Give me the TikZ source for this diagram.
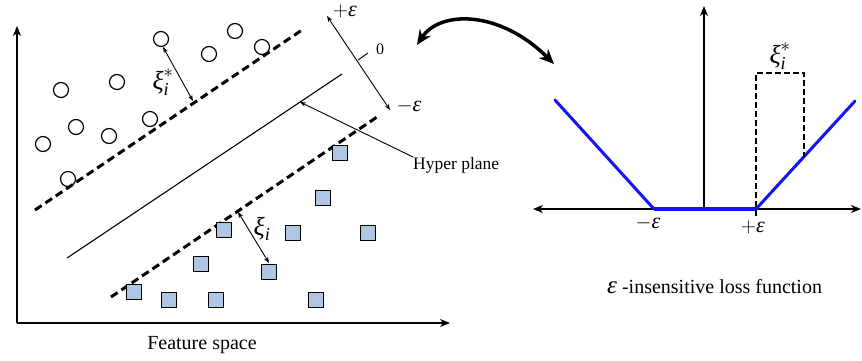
\documentclass[tikz,border=0pt]{standalone}
\usepackage{amsmath}
\usepackage{graphicx}
\usepackage{fontspec}
\setmainfont{Liberation Serif}
\usetikzlibrary{arrows.meta}
\definecolor{sqfill}{RGB}{176,196,228}
\definecolor{lossblue}{RGB}{20,20,245}
\newcommand{\gxi}{\text{\itshape ξ}}
\newcommand{\geps}{\text{\itshape ε}}
\newcommand{\gidx}{\text{\itshape i}}
\newcommand{\gstar}{\scalebox{0.75}{$*$}}
\begin{document}
\begin{tikzpicture}[x=1pt,y=-1pt,
  axisline/.style={line width=1.1pt},
  tipA/.style={-{Stealth[length=10pt,width=8pt,inset=3pt]}},
  margin/.style={line width=3pt,dash pattern=on 8pt off 4.5pt},
  pt/.style={circle,draw,line width=1.2pt,minimum size=15pt,inner sep=0pt},
  sq/.style={draw,fill=sqfill,line width=1pt,minimum size=15pt,inner sep=0pt},
  dist/.style={line width=0.9pt,{Stealth[length=6pt,width=4.5pt]}-{Stealth[length=6pt,width=4.5pt]}},
  lbl/.style={inner sep=0pt,font=\fontsize{20}{24}\selectfont},
  xilbl/.style={inner sep=0pt,font=\fontsize{26}{30}\selectfont},
  slbl/.style={inner sep=0pt,font=\fontsize{22}{26}\selectfont},
  lossline/.style={draw=lossblue,line width=3pt},
]
\useasboundingbox[fill=white] (0,0) rectangle (862,360);
% ---------- left: feature space ----------
\coordinate (org) at (17,323);
\coordinate (ytop) at (17,26);
\coordinate (xend) at (450,323);
\draw[axisline,tipA] (org) -- (ytop);
\draw[axisline,tipA] (org) -- (xend);
% margins and hyperplane
\coordinate (u1) at (35,210); \coordinate (u2) at (302,30);
\coordinate (h1) at (67,258); \coordinate (h2) at (342,74);
\coordinate (l1) at (111,297); \coordinate (l2) at (377,117);
\draw[margin] (u1) -- (u2);
\draw[line width=1.1pt] (h1) -- (h2);
\draw[margin] (l1) -- (l2);
% circles
\foreach \n/\x/\y in {1/161/39,2/235/31,3/209/54,4/262/47,5/61/90,6/117/82,7/76/127,8/150/119,9/109/136,10/43/144,11/68/179}
  \node[pt] (c\n) at (\x,\y) {};
% squares
\foreach \n/\x/\y in {1/340/153,2/323/198,3/224/230,4/293/233,5/368/233,6/201/264,7/269/272,8/134/292,9/169/300,10/216/300,11/316/300}
  \node[sq] (s\n) at (\x,\y) {};
% slack arrows
\coordinate (xa1) at (163,47); \coordinate (xa2) at (193,101);
\draw[dist] (xa1) -- (xa2);
\node[xilbl] (xistar) at (163,82) {$\gxi_{\gidx}^{\gstar}$};
\coordinate (xb1) at (238,212); \coordinate (xb2) at (269,263);
\draw[dist] (xb1) -- (xb2);
\node[xilbl] (xi) at (262,229) {$\gxi_{\gidx}$};
% epsilon tube arrow
\coordinate (e1) at (327,16); \coordinate (e2) at (390,110);
\draw[dist] (e1) -- (e2);
\coordinate (t1) at (358,60); \coordinate (t2) at (368,53);
\draw[line width=0.9pt] (t1) -- (t2);
\node[inner sep=0pt,font=\fontsize{16}{20}\selectfont] (zero) at (380,49) {0};
\node[slbl] (pe) at (345,11) {$+\geps$};
\node[slbl] (me) at (409,106) {$-\geps$};
% hyper plane label
\node[inner sep=0pt,font=\fontsize{17.5}{21}\selectfont,anchor=north west] (hp) at (413,157) {Hyper plane};
\coordinate (hpt) at (300,102);
\draw[line width=0.9pt,-{Stealth[length=6pt,width=4.5pt]}] (hp.north west) -- (hpt);
\node[lbl] (fs) at (202,345) {Feature space};
% ---------- curved double arrow ----------
\coordinate (ca1) at (417,45); \coordinate (ca2) at (554,64);
\draw[line width=3.5pt,{Stealth[length=15pt,width=13pt,inset=5pt]}-{Stealth[length=15pt,width=13pt,inset=5pt]}]
  (ca1) .. controls (440,10) and (500,10) .. (ca2);
% ---------- right: loss function ----------
\coordinate (ro) at (704,209);
\coordinate (rl) at (533,209); \coordinate (rr) at (861,209);
\coordinate (rt) at (704,6);
\draw[axisline,tipA] (ro) -- (rt);
\draw[axisline,{Stealth[length=10pt,width=8pt,inset=3pt]}-{Stealth[length=10pt,width=8pt,inset=3pt]}] (rl) -- (rr);
\coordinate (b1) at (555,100); \coordinate (b2) at (654,209);
\coordinate (b3) at (756,209); \coordinate (b4) at (855,101);
\draw[lossline,line cap=round] (b1) -- (b2);
\draw[lossline,line width=4.5pt] (b2) -- (b3);
\draw[lossline,line cap=round] (b3) -- (b4);
\coordinate (r1) at (756,216); \coordinate (r2) at (756,73);
\coordinate (r3) at (804,73); \coordinate (r4) at (804,157);
\draw[line width=1.8pt,dash pattern=on 6pt off 3pt] (r1) -- (r2) -- (r3) -- (r4);
\node[xilbl] (xistar2) at (780,56) {$\gxi_{\gidx}^{\gstar}$};
\node[slbl] (rme) at (648,223) {$-\geps$};
\node[slbl] (rpe) at (753,227) {$+\geps$};
\node[lbl,anchor=west] (loss) at (607,287) {{\fontsize{25}{28}\selectfont\itshape ε} -insensitive loss function};
\end{tikzpicture}
\end{document}
